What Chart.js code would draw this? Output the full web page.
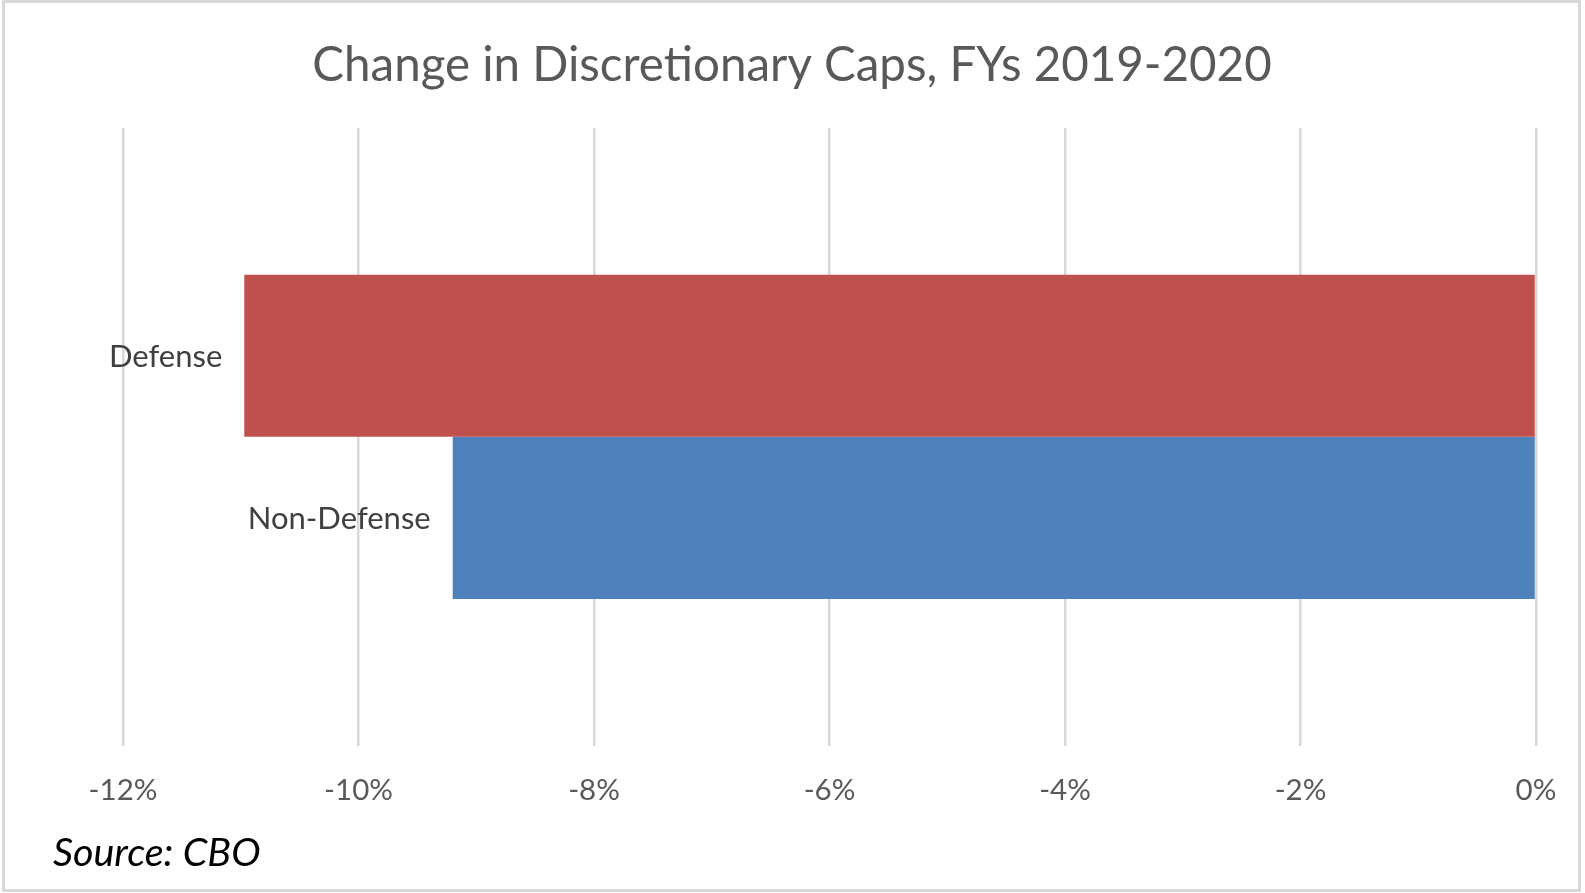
<!DOCTYPE html>
<html>
<head>
<meta charset="utf-8">
<script src="https://cdn.jsdelivr.net/npm/chart.js@4/dist/chart.umd.min.js"></script>
<style>
html,body{margin:0;padding:0;background:#fff;}
#wrap{position:absolute;left:0;top:0;width:1585px;height:893px;}
</style>
</head>
<body>
<div id="wrap"><canvas id="c" width="1585" height="893"></canvas></div>
<script>
const categories = [''];
const seriesNames = ['Defense', 'Non-Defense'];
const defenseValues = [-10.97];
const nonDefenseValues = [-9.2];
const tickValues = [-12, -10, -8, -6, -4, -2, 0];
const titleText = 'Change in Discretionary Caps, FYs 2019-2020';
const sourceText = 'Source: CBO';

const FONT = 'Lato';

const frame = {
  id: 'frame',
  beforeDraw(chart) {
    const ctx = chart.ctx;
    ctx.save();
    ctx.fillStyle = '#ffffff';
    ctx.fillRect(0, 0, chart.width, chart.height);
    ctx.strokeStyle = '#d9d9d9';
    ctx.lineWidth = 3;
    ctx.strokeRect(3.5, 1.5, 1576, 889);
    ctx.restore();
  },
  afterDraw(chart) {
    const ctx = chart.ctx;
    ctx.save();
    ctx.fillStyle = '#595959';
    ctx.font = '47.5px ' + FONT;
    ctx.textAlign = 'center';
    ctx.textBaseline = 'alphabetic';
    ctx.fillText(titleText, 792, 81);
    ctx.fillStyle = '#000000';
    ctx.font = 'italic 39.5px ' + FONT;
    ctx.textAlign = 'left';
    ctx.fillText(sourceText, 53, 866);
    ctx.restore();
  }
};

const barLabels = {
  id: 'barLabels',
  afterDatasetsDraw(chart) {
    const ctx = chart.ctx;
    ctx.save();
    ctx.fillStyle = '#404040';
    ctx.font = '31px ' + FONT;
    ctx.textAlign = 'right';
    ctx.textBaseline = 'middle';
    chart.data.datasets.forEach((ds, i) => {
      const meta = chart.getDatasetMeta(i);
      meta.data.forEach(el => {
        const left = Math.min(el.x, el.base);
        ctx.fillText(ds.label, left - 22, el.y + 1);
      });
    });
    ctx.restore();
  }
};

new Chart(document.getElementById('c'), {
  type: 'bar',
  data: {
    labels: categories,
    datasets: [
      { label: seriesNames[0], data: defenseValues, backgroundColor: '#c0504d', borderWidth: 0 },
      { label: seriesNames[1], data: nonDefenseValues, backgroundColor: '#4f81bd', borderWidth: 0 }
    ]
  },
  options: {
    indexAxis: 'y',
    responsive: false,
    animation: false,
    devicePixelRatio: 1,
    categoryPercentage: 0.525,
    barPercentage: 1.0,
    layout: { padding: { left: 123, right: 49, top: 128, bottom: 58 } },
    plugins: {
      legend: { display: false },
      title: { display: false },
      tooltip: { enabled: false }
    },
    scales: {
      x: {
        min: -12,
        max: 0,
        afterBuildTicks(scale) { scale.ticks = tickValues.map(v => ({ value: v })); },
        grid: { color: '#d9d9d9', lineWidth: 2.5, drawTicks: false },
        border: { display: false },
        ticks: {
          padding: 27,
          color: '#595959',
          font: { family: FONT, size: 29.5 },
          callback: v => v + '%'
        }
      },
      y: { display: false }
    }
  },
  plugins: [frame, barLabels]
});
</script>
</body>
</html>
